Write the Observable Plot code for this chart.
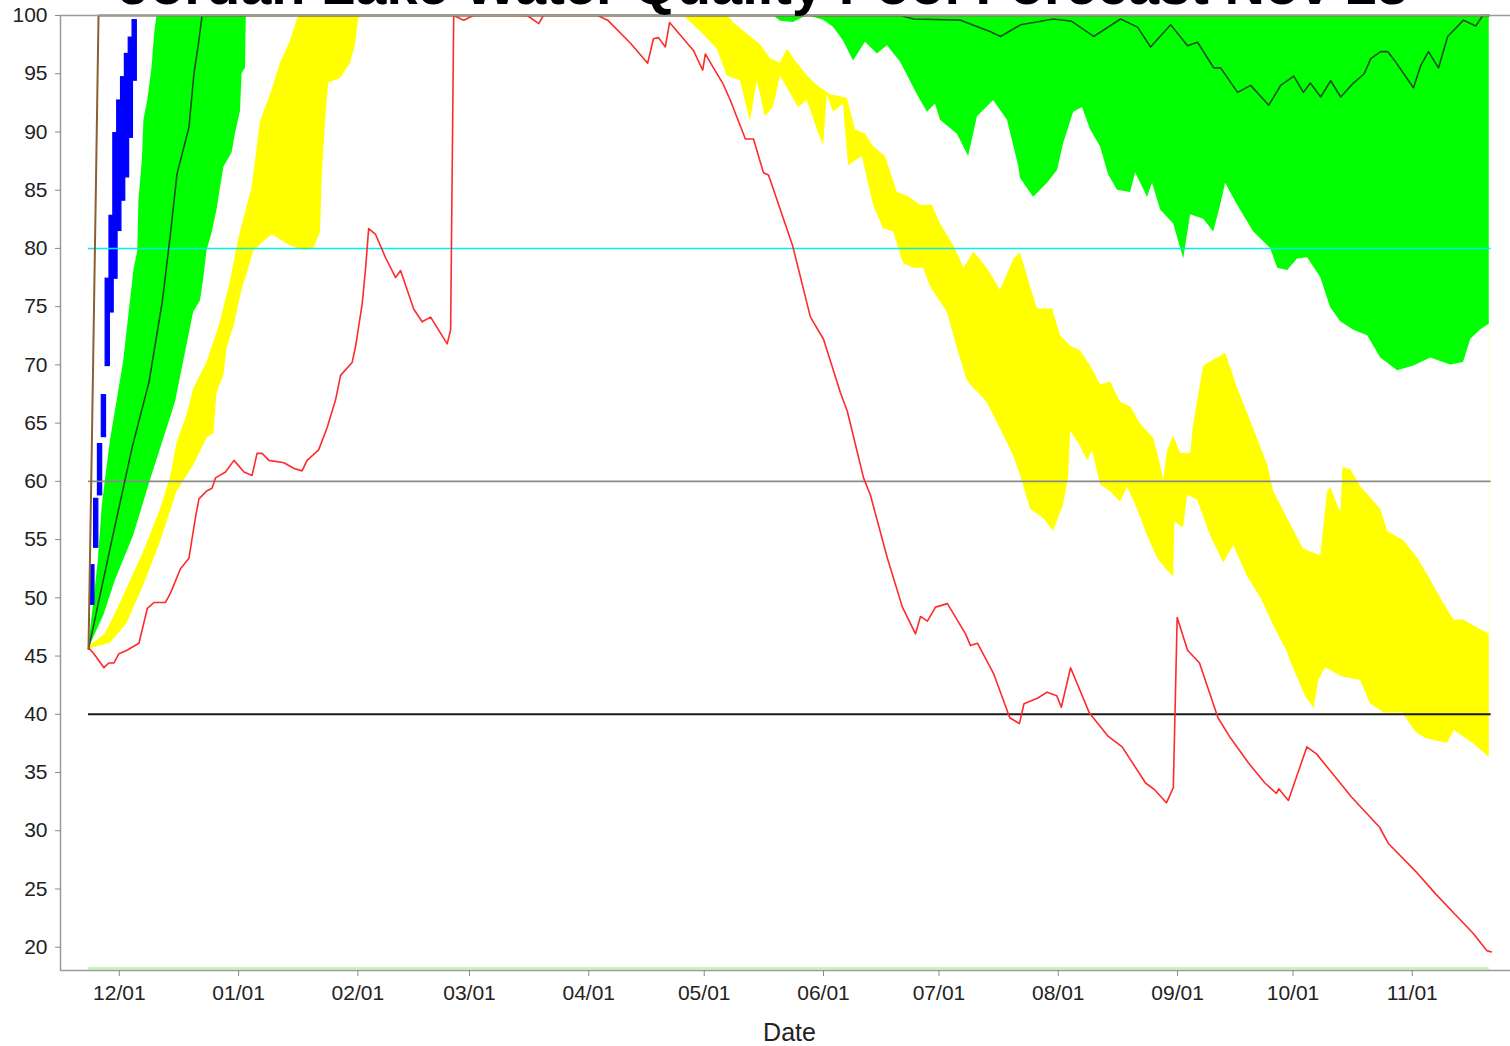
<!DOCTYPE html>
<html><head><meta charset="utf-8">
<script src="https://cdn.jsdelivr.net/npm/d3@7"></script>
<script src="https://cdn.jsdelivr.net/npm/@observablehq/plot@0.6"></script>
<style>
html,body{margin:0;padding:0;background:#fff;overflow:hidden;width:1510px;height:1046px}
#wrap{position:relative;width:1510px;height:1046px;overflow:hidden;background:#fff}
#chart{position:absolute;left:0;top:0;width:1518px;height:1046px}
#chart svg{max-width:none !important;width:1518px;height:1046px}
#title{position:absolute;left:0;top:-43px;width:1527px;text-align:center;font-family:"Liberation Sans",Arial,sans-serif;font-weight:bold;font-size:56px;line-height:56px;color:#000;white-space:nowrap}
</style></head><body>
<div id="wrap"><div id="chart"></div><div id="title">Jordan Lake Water Quality Pool Forecast Nov 23</div></div>
<script>
// ---- data: [day offset from 2007-11-23, percent of pool] ----
const startDate = "2007-11-23";
const yTickValues = [20,25,30,35,40,45,50,55,60,65,70,75,80,85,90,95,100];
const xTickDates = ["2007-12-01","2008-01-01","2008-02-01","2008-03-01","2008-04-01","2008-05-01","2008-06-01","2008-07-01","2008-08-01","2008-09-01","2008-10-01","2008-11-01"];
const refLevels = [80, 60, 40];
const refColors = ["#00f0f0", "#8a8a8a", "#1a1a1a"];
const floorLevel = [18.2];

const greenHi = [[0,45.6],[1.4,49.8],[2.5,53],[3.6,58],[5.7,63.5],[9.1,70.2],[11.8,78.1],[12.8,79.8],[13.1,84.1],[14,87.6],[14.4,91],[15.4,92.7],[16.5,95.5],[17.2,98.5],[17.8,100],[364,100]];
const greenLo = [[0,45.6],[4,48.5],[7,51.5],[11.7,55.3],[16.1,60.1],[22.6,66.8],[27.3,74.5],[29.1,75.5],[29.9,77.3],[30.8,79.8],[32.1,81.3],[33.4,83.3],[34.3,85.2],[35.2,87],[37.3,88.2],[38.2,89.9],[39.5,91.8],[39.9,95],[40.8,95.5],[41,100],
 [178,100],[179.8,99.5],[183.2,99.4],[186.8,100],[191,99.6],[193.6,99],[196.2,97.8],[198.8,96.1],[201.9,97.7],[205,96.7],[207.6,97.4],[211,96],[215.4,93.2],[218,91.7],[220.1,92.4],[221.4,91],[225.8,89.8],[228.7,87.9],[231,91.3],[235.2,92.7],[238.8,91],[241.7,87.1],[242.2,86],[245.6,84.4],[249.2,85.6],[251.8,86.7],[253.4,89],[256,91.7],[258.3,92.1],[260.4,90.2],[263,88.7],[265.1,86.3],[267.4,85],[270.8,84.8],[272.1,86.5],[275.2,84.4],[276.5,85.6],[278.6,83.3],[282,82.1],[284.6,79.1],[286.4,82.9],[289.8,82.5],[292.4,81.4],[294.2,83.7],[295.5,85.6],[298.6,83.7],[302.8,81.4],[307.2,80],[309,78.3],[311.6,78.1],[314.2,79.1],[316.8,79.2],[320.2,77.5],[322.8,74.9],[325.4,73.7],[328.7,73],[332.4,72.5],[335.8,70.6],[340.2,69.5],[344.4,69.9],[348.8,70.6],[354,70],[357.3,70.2],[359.2,72.2],[361.7,73],[364,73.5]];
const yellowHi = [[0,45.6],[0.5,45.9],[4.4,46.9],[7.8,49.2],[11.4,51.8],[14.8,54.3],[18.7,57.6],[21.3,60.3],[23,63.3],[25.6,65.7],[27.4,68],[30.8,70.2],[34.3,73.7],[36.9,77.2],[39.1,80.9],[42.5,85.2],[44.7,90.9],[47.3,93.2],[49.9,95.9],[52.5,97.8],[54.3,99.7],[55,100],
 [166,100],[167.6,99.4],[171.2,98.4],[174.6,97.5],[177.2,96.3],[179.8,95.9],[181.6,97.1],[184.2,95.9],[186.8,94.8],[189.4,94],[192.8,93.2],[197.2,92.9],[199.3,90.2],[201.9,89.8],[204.1,88.7],[207.1,87.9],[210.2,84.8],[212.8,84.5],[216.2,83.7],[219.3,83.7],[221.4,82.1],[224.9,80.2],[227.5,78.3],[230.1,79.7],[233.5,78.3],[237,76.4],[240.5,79.1],[242.2,79.6],[244.8,76.7],[246.6,74.8],[250.5,74.8],[252.6,72.5],[255.2,71.6],[257.8,71.2],[260.4,69.9],[263,68.3],[265.6,68.5],[268.2,66.8],[270.8,66.4],[273.4,64.9],[276.8,63.7],[278.6,61.4],[279.4,60.1],[280.4,62.6],[282,63.9],[283.8,62.4],[286.4,62.4],[287.2,64.9],[289.8,69.9],[293.4,70.6],[295.5,71],[298.6,68],[302.8,64.5],[306.4,61.4],[308,59.1],[311.6,56.8],[315.7,54.2],[320.2,53.6],[322,59.1],[322.8,59.5],[325.4,57.3],[326,61.2],[328,61],[330.7,59.5],[335.8,57.6],[337.6,55.7],[341.8,54.9],[345.4,53.4],[348.8,51.5],[352.2,49.5],[354.8,48.1],[357.3,48.1],[359.9,47.6],[364,46.9]];
const yellowLo = [[0,45.6],[5.7,46.1],[10,47.8],[14.4,51.1],[18.7,54.8],[23,59.1],[27.4,61.4],[30.8,63.7],[32.6,64.1],[33.4,67.6],[35.2,69.1],[36,71.4],[37.8,73.3],[39.9,76.4],[43,79.8],[47.7,81.2],[52.5,80.2],[56,79.8],[58.6,80],[60.3,81.4],[60.7,86],[61.6,90.9],[62.4,94.2],[65.5,94.6],[68.1,95.9],[69.4,97.5],[70.2,99.7],[71,100],
 [154.6,100],[159.1,98.6],[163.4,97.1],[166,94.8],[169.4,94.4],[172,90.9],[173.8,94.4],[175.9,91.3],[178,92.1],[179.8,94.8],[181.9,93.6],[184.5,92.1],[186.8,92.7],[189.4,90.2],[191,88.8],[192,93.2],[193.6,91.7],[196.2,92.4],[197.5,87.1],[201.1,87.9],[204,83.7],[206.6,81.7],[209.2,81.4],[211.8,78.7],[214.4,78.3],[217,78.3],[218.8,76.7],[223.2,74.5],[225.8,71.4],[228.3,68.7],[229.2,68.3],[233.5,66.8],[237,64.5],[240.4,62.2],[242.2,60.5],[244.8,57.6],[248.2,56.8],[250.8,55.7],[253.4,58],[254.7,60.3],[255.2,64.3],[257.3,63.3],[259.6,61.8],[260.9,62.6],[263,59.7],[265.6,59.1],[268.2,58.2],[270,59.5],[272.6,57.6],[275.2,55.3],[277.8,53.4],[280.4,52.3],[282,51.8],[282.3,56.5],[284.6,56],[285.6,58.8],[288.2,58.4],[291.6,55.3],[295,53],[297.6,54.5],[301.2,51.8],[304.6,50],[308,47.6],[311.6,45.3],[312.4,44.5],[316.3,41.5],[318.5,40.5],[319.7,42.9],[321.5,44],[325.8,43.2],[330.6,42.9],[333.1,40.9],[336.7,40.1],[341.5,40.1],[345.1,38.4],[347.7,37.9],[353.1,37.5],[354.9,38.6],[359.8,37.5],[364,36.3]];
const median = [[0,45.6],[5.7,54.4],[11.4,63],[15.7,68.5],[19.2,75.5],[21.3,81.3],[23,86.4],[26.1,90.4],[27.4,95],[28.7,97.9],[29.5,100],
 [211,100],[214.4,99.7],[226.6,99.6],[234.4,98.6],[237,98.2],[242.2,99.2],[250.8,99.7],[255.5,99.5],[261.2,98.2],[268.2,99.7],[272.6,99],[276,97.3],[281.2,99.2],[285.6,97.4],[288.2,97.7],[292.4,95.5],[294.2,95.5],[298.6,93.4],[302,94],[306.7,92.3],[309.8,94],[313.2,94.8],[315.7,93.4],[317.5,94.2],[320.2,93],[322.8,94.4],[325.4,93],[328.7,94.2],[331.5,95],[333.2,96.3],[335.8,96.9],[337.6,96.9],[339.7,96],[344.3,93.8],[346.2,95.7],[348.2,96.9],[350.8,95.5],[353.2,98.2],[357.3,99.6],[360.5,99.1],[362.3,100],[364,100]];
const brown = [[0,45.6],[1,66],[2,87],[2.6,100],[364,100]];
// [day, low, high]
const blue = [[1,49.4,52.8],[2,54.3,58.5],[3,58.8,63.2],[4,63.8,67.4],[5,69.9,77.4],[6,74.5,82.8],[7,77.4,89.9],[8,81.5,92.7],[9,84.1,94.7],[10,86.1,96.7],[11,89.5,98.1],[12,94.4,99.6]];
const red = [[0,45.7],[1.4,45.2],[4,44],[5.3,44.4],[6.6,44.4],[7.9,45.2],[10,45.5],[13.1,46.1],[15.3,49.1],[17,49.6],[20,49.6],[21.3,50.4],[23.9,52.5],[26.1,53.4],[27.8,56.9],[28.7,58.5],[30.8,59.2],[32.1,59.4],[33,60.3],[35.6,60.8],[37.8,61.8],[40.4,60.8],[42.5,60.5],[43.8,62.4],[45.1,62.4],[46.9,61.8],[50.8,61.6],[53.4,61.1],[55.5,60.9],[56.8,61.8],[59.8,62.7],[62,64.6],[64.2,67],[65.5,69.1],[68.5,70.2],[69.4,71.6],[71.1,75.2],[72,78.3],[72.8,81.7],[74.6,81.2],[77.2,79.2],[79.8,77.5],[81.1,78.1],[84.5,74.8],[86.7,73.7],[88.9,74.1],[93.2,71.8],[94.1,73],[94.9,100],[97.5,99.6],[100,100],[114,100],[117,99.3],[118.2,100],[132.3,100],[134.9,99.6],[140.9,97.6],[145.3,95.9],[146.8,98],[148.1,98.1],[149.9,97.3],[151,99.4],[154.6,98],[157.2,97],[159.6,95.3],[160.3,96.7],[162.4,95.5],[164.8,94.2],[166.8,92.7],[170.7,89.4],[172.8,89.4],[175.4,86.5],[176.7,86.3],[183,80.2],[187.6,74.1],[191,72.2],[195.4,67.6],[197.2,66],[201.4,60.3],[203.2,58.8],[207.6,53.4],[211.5,49.2],[214.9,46.9],[216.2,48.4],[218,48],[220.1,49.2],[223.2,49.5],[227.9,46.9],[229.2,45.9],[231,46.1],[235.2,43.5],[239.4,39.7],[241.9,39.2],[243.1,40.9],[246.7,41.4],[249.1,41.9],[251.6,41.6],[252.8,40.6],[255.2,44],[260.1,40.1],[265,38.1],[268.6,37.2],[274.7,34.1],[277.1,33.5],[280.1,32.4],[281.9,33.7],[282.9,48.3],[285.6,45.5],[288.7,44.4],[293.5,39.7],[296.5,38.1],[301.5,35.8],[305.7,34.1],[308.7,33.2],[309.3,33.6],[311.8,32.6],[316.6,37.2],[319.1,36.6],[323.3,34.9],[328.2,32.9],[335.5,30.3],[337.8,28.9],[345.2,26.4],[350,24.6],[354.9,22.9],[359.8,21.2],[363.4,19.7],[364.5,19.6]];

// ---- helpers ----
const START = Date.parse(startDate + "T00:00:00Z");
const toDate = d => new Date(START + d * 864e5);
const firstDay = 0, lastDay = 364.5;
const top100 = () => 100;
const X = d => toDate(d[0]);
const V = d => d[1];
const font = "'Liberation Sans', Arial, sans-serif";

const chart = Plot.plot({
  width: 1518, height: 1046,
  marginLeft: 60, marginRight: 0, marginTop: 15, marginBottom: 76,
  x: {type: "utc", domain: [toDate(-7.28), toDate(371.6)]},
  y: {domain: [18, 100]},
  style: {background: "white", fontFamily: font, fontSize: "21px", color: "#222", maxWidth: "none"},
  marks: [
    Plot.areaY(yellowLo, {x: X, y1: V, y2: top100, fill: "#ffff00"}),
    Plot.areaY(yellowHi, {x: X, y1: V, y2: top100, fill: "#ffffff"}),
    Plot.areaY(greenLo, {x: X, y1: V, y2: top100, fill: "#00ff00"}),
    Plot.areaY(greenHi, {x: X, y1: V, y2: top100, fill: "#ffffff"}),
    Plot.rectY(blue, {x1: d => toDate(d[0] - 0.55), x2: d => toDate(d[0] + 0.55), y1: d => d[1], y2: d => d[2], fill: "#0000ff", stroke: "#0000ff", strokeWidth: 1.2, inset: 0, shapeRendering: "geometricPrecision"}),
    Plot.ruleY(floorLevel, {x1: toDate(firstDay), x2: toDate(lastDay - 0.5), stroke: "#c6f2bc", strokeWidth: 2.5}),
    Plot.ruleY(refLevels, {x1: toDate(firstDay), x2: toDate(lastDay), stroke: (d, i) => refColors[i], strokeWidth: (d, i) => i === 2 ? 2 : 1.6}),
    Plot.line(red, {x: X, y: V, stroke: "#ff2a2a", strokeWidth: 1.6}),
    Plot.line(median, {x: X, y: V, stroke: "#1f4f1f", strokeWidth: 1.6}),
    Plot.line(brown, {x: X, y: V, stroke: "#8b5e34", strokeWidth: 2}),
    Plot.frame({stroke: "#9a9a9a", strokeWidth: 1.5}),
    Plot.axisY({ticks: yTickValues, tickSize: 5, tickPadding: 8, label: null, stroke: "#8a8a8a", fill: "#222", fontSize: 21}),
    Plot.axisX({ticks: xTickDates.map(s => new Date(s + "T00:00:00Z")), tickFormat: d3.utcFormat("%m/%d"), tickSize: 6, tickPadding: 9, label: null, stroke: "#8a8a8a", fill: "#222", fontSize: 21}),
    Plot.text(["Date"], {frameAnchor: "bottom", dy: 62, fontSize: 25, fill: "#222", lineAnchor: "middle"})
  ]
});
chart.style.maxWidth = "none";
chart.style.width = "1518px";
chart.style.height = "1046px";
document.getElementById("chart").appendChild(chart);
</script>
</body></html>
